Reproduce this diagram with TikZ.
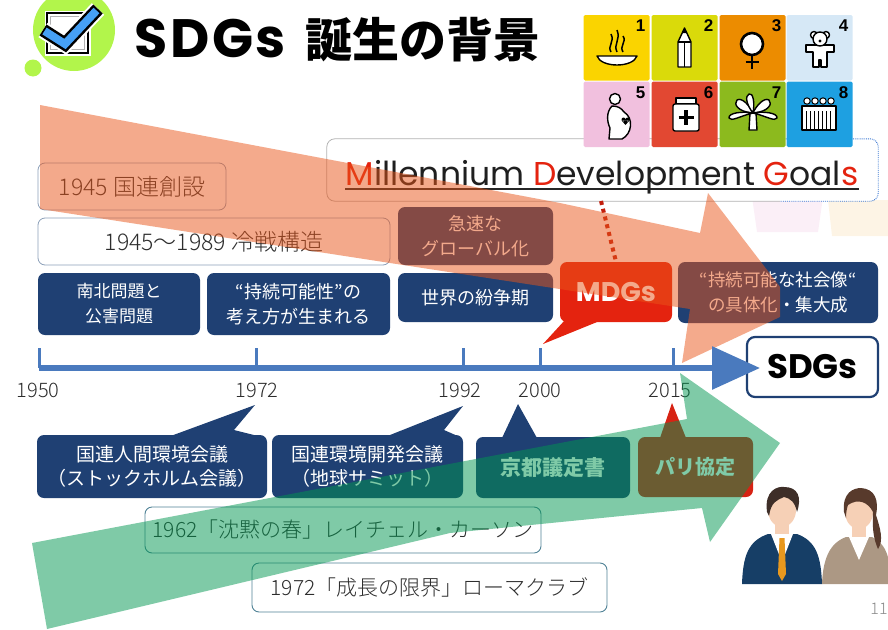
\documentclass[tikz,border=0pt]{standalone}
\usepackage{fontspec}
\newfontfamily\jp{Noto Sans CJK JP}
\newfontfamily\jpl{Noto Sans CJK JP Light}
\newfontfamily\pop{Poppins}
\newfontfamily\popwide{Poppins}[LetterSpace=5]
\newfontfamily\arial{Liberation Sans}
\usetikzlibrary{arrows.meta}

\definecolor{navy}{RGB}{31,64,115}
\definecolor{tlblue}{RGB}{74,122,190}
\definecolor{mred}{RGB}{228,35,15}
\definecolor{parisred}{RGB}{215,35,20}
\definecolor{orangeband}{RGB}{233,85,25}
\definecolor{greenband}{RGB}{0,150,80}
\definecolor{lime}{RGB}{178,245,75}
\definecolor{checkblue}{RGB}{70,160,245}
\definecolor{boxline}{RGB}{140,160,185}
\definecolor{tealline}{RGB}{80,130,150}
\definecolor{txtdark}{RGB}{45,45,45}
\definecolor{dotblue}{RGB}{60,120,210}
\definecolor{sdgA}{RGB}{250,212,0}
\definecolor{sdgB}{RGB}{218,218,10}
\definecolor{sdgC}{RGB}{236,140,0}
\definecolor{sdgD}{RGB}{214,232,246}
\definecolor{sdgE}{RGB}{241,192,222}
\definecolor{sdgF}{RGB}{226,72,50}
\definecolor{sdgG}{RGB}{140,186,30}
\definecolor{sdgH}{RGB}{30,160,225}
\definecolor{skin}{RGB}{246,208,182}
\definecolor{suit}{RGB}{22,62,102}
\definecolor{tie}{RGB}{232,152,30}
\definecolor{hair}{RGB}{62,46,40}
\definecolor{hairw}{RGB}{88,58,44}
\definecolor{beige}{RGB}{172,152,132}

\begin{document}
\begin{tikzpicture}[x=1pt,y=1pt,yscale=-1,xscale=1,
    lightbox/.style={draw=boxline,line width=0.8pt,fill=white,rounded corners=7pt,inner sep=0pt,text=txtdark,font=\jpl\fontsize{23}{26}\selectfont},
    bluebox/.style={fill=navy,rounded corners=7pt,inner sep=0pt,text=white,align=center,font=\jp\fontsize{18}{25}\selectfont},
    notebox/.style={draw=tealline,line width=0.9pt,fill=white,rounded corners=7pt,inner sep=0pt,text=txtdark,font=\jpl\fontsize{21}{24}\selectfont},
    yearlabel/.style={inner sep=0pt,text=txtdark,font=\jpl\fontsize{20}{20}\selectfont},
    tltick/.style={draw=tlblue,line width=3pt},
    sdgnum/.style={inner sep=0pt,font=\arial\bfseries\fontsize{17}{17}\selectfont},
    icon/.style={draw=black,fill=white,line width=1.4pt,line join=round}]
\useasboundingbox (0,0) rectangle (888,629);

%Shape: faint shapes behind the goals
\fill[sdgE!25] (752,197) -- (823,197) -- (818,232) -- (757,232) -- cycle;
\fill[sdgC!10] (828,200) -- (888,200) -- (888,236) -- (832,236) -- cycle;

% Text Node: boxes above the time line
\node[lightbox,minimum width=188pt,minimum height=47pt] (un1945) at (132,186.5) {1945 国連創設};
\node[lightbox,minimum width=352pt,minimum height=47pt] (cold) at (214,241.5) {1945〜1989 冷戦構造};
\node[bluebox,minimum width=162pt,minimum height=62pt,font=\jp\fontsize{17}{25}\selectfont] (nanboku) at (119,304) {南北問題と\\公害問題};
\node[bluebox,minimum width=183pt,minimum height=62pt] (jizoku) at (298.5,304) {“持続可能性”の\\考え方が生まれる};
\node[bluebox,minimum width=155pt,minimum height=58pt] (kyusoku) at (475.5,236) {急速な\\グローバル化};
\node[bluebox,minimum width=155pt,minimum height=49pt] (funso) at (475.5,297.5) {世界の紛争期};
\node[bluebox,minimum width=200pt,minimum height=61pt,font=\jp\fontsize{17.5}{25}\selectfont] (shakai) at (778,292.5) {“持続可能な社会像“\\の具体化・集大成};

%Shape: MDGs balloon
\coordinate (tip2000) at (543,344);
\fill[mred] (565,320) -- (tip2000) -- (602,320) -- cycle;
\node[bluebox,fill=mred,minimum width=112pt,minimum height=60pt,font=\pop\bfseries\fontsize{27}{27}\selectfont] (mdgs) at (616,292) {MDGs};

%Shape: goals title box
\node[fill=white,rounded corners=8pt,inner sep=0pt,minimum width=551pt,minimum height=62pt] (mdgbox) at (602.5,170) {};
\begin{scope}
\clip (0,0) rectangle (780,629);
\draw[draw=black!30,line width=0.8pt,rounded corners=8pt] (mdgbox.north west) rectangle (mdgbox.south east);
\end{scope}
\node[anchor=base,inner sep=0pt,text=black!88,font=\pop\fontsize{33}{33}\selectfont] (mdgtext) at (602,185) {{\color{mred}M}illennium {\color{mred}D}evelopment {\color{mred}G}oal{\color{mred}s}};
\coordinate (ulbase) at (0,189);
\draw[black!85,line width=1.8pt] (mdgtext.west |- ulbase) -- (mdgtext.east |- ulbase);

%Straight Lines: dotted link down to MDGs
\coordinate (mdgfoot) at (601,201);
\draw[draw=mred!85!black,line width=4pt,dash pattern={on 4pt off 4pt}] (mdgfoot) -- (mdgs.north);

%Shape: orange sweep arrow
\begin{scope}
\clip (0,0) rectangle (780,629);
\fill[orangeband,fill opacity=0.5] (40,105) -- (560,203) -- (700,233) -- (708,193) -- (797,309) -- (682,363) -- (690,309) -- (390,263) -- (40,209) -- cycle;
\end{scope}

%Shape: right end of the goals box
\begin{scope}
\clip (780,120) rectangle (888,215);
\draw[draw=dotblue,line width=0.9pt,densely dotted,rounded corners=8pt] (mdgbox.north west) rectangle (mdgbox.south east);
\end{scope}

%Shape: eight goal tiles
\foreach \x/\y/\c/\n in {583.5/15/sdgA/1,651.5/15/sdgB/2,719.5/15/sdgC/3,786.5/15/sdgD/4,583.5/81.5/sdgE/5,651.5/81.5/sdgF/6,719.5/81.5/sdgG/7,786.5/81.5/sdgH/8}{
  \fill[\c,rounded corners=1.5pt] (\x,\y) rectangle ++(66,65.5);
  \node[sdgnum] (num\n) at (\x+57,\y+11) {\n};
}
% bowl
\draw[line width=1.5pt] (611,52) .. controls (607,46) and (615,42) .. (611,34);
\draw[line width=1.5pt] (617,52) .. controls (613,44) and (621,40) .. (617,30);
\draw[line width=1.5pt] (623,52) .. controls (619,46) and (627,42) .. (623,36);
\draw[icon] (597,56) -- (637,56) .. controls (633,68) and (601,68) .. (597,56) -- cycle;
% pencil
\draw[icon] (678,42) -- (684.5,28) -- (691,42) -- (691,67) -- (678,67) -- cycle;
\draw[line width=1.2pt] (678,42) -- (691,42) (684.5,42) -- (684.5,67);
\fill (682,33) -- (684.5,28) -- (687,33) -- cycle;
% female sign
\draw[icon,line width=2.6pt] (752,44) circle (11);
\draw[line width=2.6pt] (752,55) -- (752,69) (745.5,62) -- (758.5,62);
% child
\draw[icon] (814,35) circle (3.5) (826,35) circle (3.5);
\draw[icon] (806,45) -- (834,45) -- (834,52) -- (827,52) -- (827,67) -- (821,67) -- (821,60) -- (819,60) -- (819,67) -- (813,67) -- (813,52) -- (806,52) -- cycle;
\draw[icon] (820,39) circle (7);
\fill (820,41) circle (1.6);
% mother
\draw[icon] (615,99) circle (5.5);
\draw[icon] (612,106) .. controls (606,112) and (607,122) .. (610,128) -- (609,139) -- (622,139) .. controls (632,134) and (634,118) .. (624,112) .. controls (621,108) and (618,106) .. (612,106) -- cycle;
\fill (623.5,119.5) circle (2) (627.5,119.5) circle (2) (621.6,120.5) -- (625.5,125) -- (629.4,120.5) -- cycle;
% medicine
\draw[icon] (676,98) rectangle (696,104);
\draw[icon,rounded corners=2pt] (673,104) rectangle (699,131);
\draw[line width=3.2pt] (686,110) -- (686,125) (678.5,117.5) -- (693.5,117.5);
% plant
\draw[icon] (750,113) -- (749,130) -- (757,130) -- (756,113) -- cycle;
\draw[icon] (753,113) .. controls (738,112) and (733,104) .. (737,100) .. controls (742,97) and (750,106) .. (753,113);
\draw[icon] (753,113) .. controls (768,112) and (773,104) .. (769,100) .. controls (764,97) and (756,106) .. (753,113);
\draw[icon] (753,113) .. controls (746,104) and (745,96) .. (749,94) .. controls (753,92) and (755,103) .. (753,113);
\draw[icon] (753,113) .. controls (740,116) and (731,122) .. (729,118) .. controls (728,113) and (742,111) .. (753,113);
\draw[icon] (753,113) .. controls (766,116) and (775,122) .. (777,118) .. controls (778,113) and (764,111) .. (753,113);
% group
\foreach \hx in {807,815,823,831} \draw[icon,line width=1pt] (\hx,101) circle (3.2);
\draw[icon] (802,106) rectangle (836,130);
\foreach \sx in {806,810,...,832} \draw[line width=1pt] (\sx,111) -- (\sx,130);

%Straight Lines: time line
\coordinate (t1950) at (39,368);
\coordinate (t1972) at (256,368);
\coordinate (t1992) at (463,368);
\coordinate (t2000) at (540,368);
\coordinate (t2015) at (673,368);
\coordinate (tlend) at (760,368);
\node[draw=navy,line width=2.2pt,fill=white,rounded corners=8pt,inner sep=0pt,minimum width=131pt,minimum height=60pt,font=\pop\bfseries\fontsize{34}{34}\selectfont] (sdgs) at (812.5,367) {SDGs};
\foreach \t in {t1950,t1972,t1992,t2000,t2015} \draw[tltick] (\t) -- ++(0,-20);
\draw[draw=tlblue,line width=6pt,-{Triangle[length=48pt,width=42pt]}] (t1950) -- (tlend);

% Text Node
\node[yearlabel] (y1950) at (38,390) {1950};
\node[yearlabel] (y1972) at (257,390) {1972};
\node[yearlabel] (y1992) at (460,390) {1992};
\node[yearlabel] (y2000) at (540,390) {2000};
\node[yearlabel] (y2015) at (670,390) {2015};

% Text Node: boxes below the time line
\coordinate (tip1972) at (255,405);
\coordinate (tip1992) at (463,406);
\coordinate (tipkyoto) at (518,404);
\coordinate (tipparis) at (672,403);
\fill[navy] (168,437) -- (tip1972) -- (234,430) -- (262,437) -- cycle;
\fill[navy] (385,437) -- (tip1992) -- (444,430) -- (460,437) -- cycle;
\fill[navy] (502,438) -- (tipkyoto) -- (537,438) -- cycle;
\fill[parisred] (660,438) -- (tipparis) -- (686,438) -- cycle;
\node[bluebox,minimum width=230pt,minimum height=63pt,font=\jp\fontsize{19}{24}\selectfont] (stock) at (152,466.5) {国連人間環境会議\\（ストックホルム会議）};
\node[bluebox,minimum width=191pt,minimum height=63pt,font=\jp\fontsize{19}{24}\selectfont] (earth) at (367.5,466.5) {国連環境開発会議\\（地球サミット）};
\node[bluebox,minimum width=154pt,minimum height=61pt,font=\jp\bfseries\fontsize{21}{24}\selectfont] (kyoto) at (553,467.5) {京都議定書};
\node[bluebox,fill=parisred,minimum width=115pt,minimum height=60pt,font=\jp\bfseries\fontsize{20}{24}\selectfont] (paris) at (695.5,467) {パリ協定};
\node[notebox,minimum width=396pt,minimum height=46pt] (spring) at (343,530) {1962「沈黙の春」レイチェル・カーソン};
\node[notebox,minimum width=355pt,minimum height=49pt] (limits) at (429.5,587.5) {1972「成長の限界」ローマクラブ};

%Shape: green sweep arrow
\fill[greenband,fill opacity=0.5] (32,543) -- (687,419) -- (680,373) -- (780,443) -- (710,542) -- (702,508) -- (450,533) -- (47,629) -- cycle;

%Shape: two people
\fill[suit] (742,584) .. controls (743,556) and (748,541) .. (768,534) -- (797,534) .. controls (816,541) and (821,556) .. (822,584) -- cycle;
\fill[skin] (775,518) rectangle (789,536);
\fill[white] (771,534) -- (782,562) -- (793,534) -- cycle;
\fill[tie] (779.5,538) -- (784.5,538) -- (786,574) -- (782,581) -- (778,574) -- cycle;
\fill[skin] (782,510) ellipse (14 and 17);
\fill[hair] (767,512) .. controls (764,490) and (778,486) .. (784,487) .. controls (798,487) and (802,497) .. (797,512) .. controls (795,502) and (790,498) .. (784,497) .. controls (777,500) and (771,502) .. (769,516) -- cycle;
\fill[beige] (822,584) .. controls (823,558) and (830,543) .. (846,537) -- (872,537) .. controls (885,543) and (890,555) .. (892,584) -- cycle;
\fill[skin] (852,520) rectangle (866,539);
\fill[white] (849,537) -- (859,560) -- (869,537) -- cycle;
\fill[skin] (859,512) ellipse (14 and 17);
\fill[hairw] (844,512) .. controls (842,492) and (854,488) .. (861,488) .. controls (875,489) and (879,500) .. (876,515) .. controls (880,528) and (884,540) .. (878,549) .. controls (874,540) and (872,530) .. (873,512) .. controls (868,502) and (858,498) .. (848,505) .. controls (847,508) and (846,512) .. (846,518) -- cycle;

% Text Node
\node[inner sep=0pt,text=black!45,font=\jpl\fontsize{16}{16}\selectfont] (pagenum) at (879,609) {11};

%Shape: title mark
\fill[lime] (74,30) circle (41);
\fill[lime] (33,68) circle (8.5);
\draw[white,line width=5pt] (47,13) rectangle (88,53);
\draw[black,line width=2.2pt,fill=white] (47,13) rectangle (88,53);
\draw[black!30,line width=1pt] (50.5,16.5) rectangle (84.5,49.5);
\draw[white,line width=17pt,line join=miter] (43,30) -- (65,44) -- (98,9);
\draw[black,line width=13pt,line join=miter] (43,30) -- (65,44) -- (98,9);
\draw[checkblue,line width=8pt,line join=miter] (44.5,31) -- (65,44) -- (96.5,10.5);

% Text Node
\node[anchor=base west,inner sep=0pt,font=\popwide\bfseries\fontsize{54}{54}\selectfont] (ttlsdgs) at (134,57) {SDGs};
\node[anchor=base west,inner sep=0pt,font=\jp\bfseries\fontsize{47}{47}\selectfont] (ttljp) at (305,57) {誕生の背景};

\end{tikzpicture}
\end{document}
